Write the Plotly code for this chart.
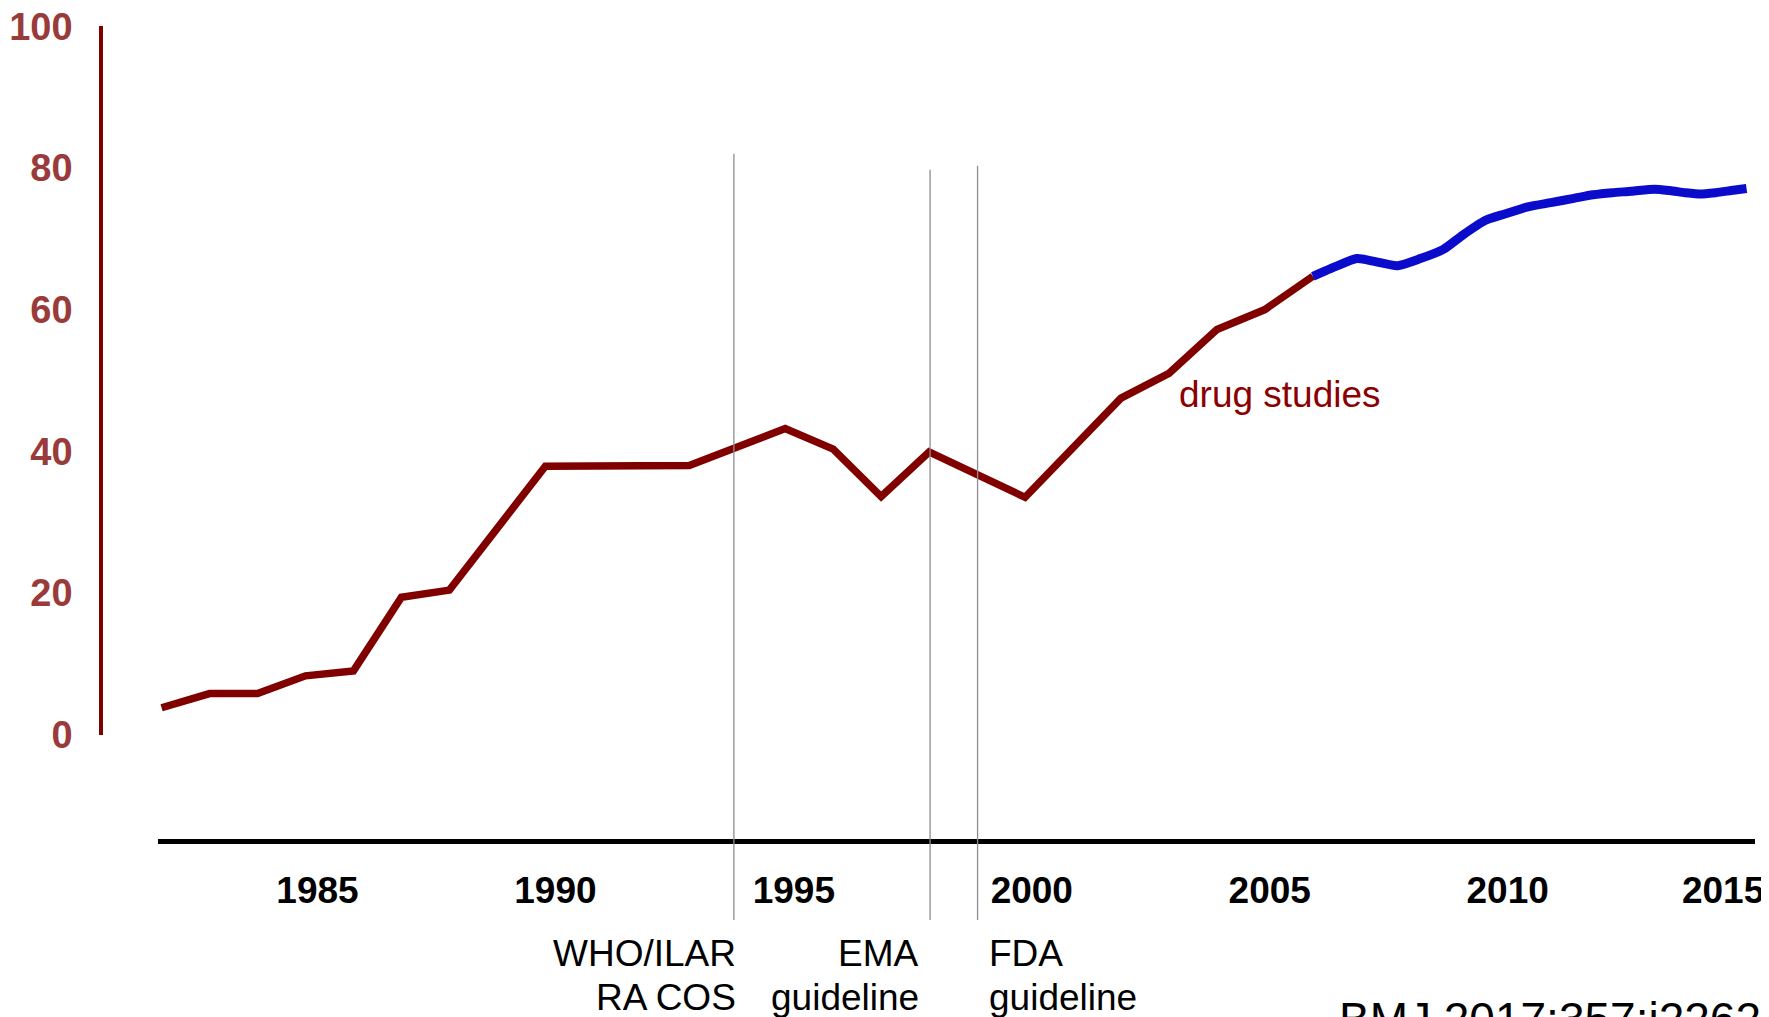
import plotly.graph_objects as go

# ---- data ----
red_years = [1982, 1983, 1984, 1985, 1986, 1987, 1988, 1990, 1993, 1995, 1996,
             1997, 1998, 2000, 2002, 2003, 2004, 2005, 2006]
red_values = [3.8, 5.8, 5.8, 8.3, 9.0, 19.4, 20.4, 37.9, 38.0, 43.2, 40.3,
              33.6, 39.9, 33.5, 47.5, 51.0, 57.2, 60.0, 64.7]

blue_years = [2006.0, 2006.48, 2006.92, 2007.28, 2007.76, 2008.24, 2008.72, 2009.12,
              2009.60, 2010.0, 2010.48, 2010.96, 2011.44, 2011.84, 2012.24, 2012.64,
              2013.12, 2013.44, 2013.76, 2014.08, 2014.40, 2014.72, 2015.04]
blue_values = [64.7, 66.1, 67.2, 66.8, 66.2, 67.2, 68.5, 70.5, 72.6, 73.5, 74.5, 75.1,
               75.7, 76.2, 76.5, 76.7, 77.0, 76.8, 76.5, 76.3, 76.5, 76.8, 77.1]

y_ticks = [0, 20, 40, 60, 80, 100]
x_tick_labels = ["1985", "1990", "1995", "2000", "2005", "2010", "2015"]
x_tick_pos = [1985.25, 1990.21, 1995.18, 2000.14, 2005.10, 2010.06, 2014.55]

event_years = [1993.93, 1998.02, 1999.01]
event_tops = [0.8568, 0.8409, 0.8449]
event_line1 = ["WHO/ILAR", "EMA", "FDA"]
event_line2 = ["RA COS", "guideline", "guideline"]
event_label_x = [1994.01, 1997.83, 1999.21]
event_label_anchor = ["right", "right", "left"]

FONT = "Liberation Sans, Arial, sans-serif"
DARK_RED = "#800000"

fig = go.Figure()
fig.add_trace(go.Scatter(x=red_years, y=red_values, mode="lines",
                         line=dict(color=DARK_RED, width=7.5), showlegend=False,
                         hoverinfo="skip"))
fig.add_trace(go.Scatter(x=blue_years, y=blue_values, mode="lines",
                         line=dict(color="#0B0BCC", width=9, shape="spline",
                                   smoothing=0.6),
                         showlegend=False, hoverinfo="skip"))

for xv, top in zip(event_years, event_tops):
    fig.add_shape(type="line", xref="x", yref="paper", x0=xv, x1=xv,
                  y0=0.1032, y1=top, line=dict(color="#8E8E8E", width=1.3))

for l1, l2, xv, anc in zip(event_line1, event_line2, event_label_x, event_label_anchor):
    fig.add_annotation(text=l1, xref="x", yref="paper", x=xv, y=0.0707,
                       xanchor=anc, yanchor="middle", align=anc, showarrow=False,
                       font=dict(family=FONT, size=37, color="#000000"))
    fig.add_annotation(text=l2, xref="x", yref="paper", x=xv, y=0.0273,
                       xanchor=anc, yanchor="middle", align=anc, showarrow=False,
                       font=dict(family=FONT, size=37, color="#000000"))

fig.add_annotation(text="drug studies", xref="x", yref="y", x=2003.16, y=48.0,
                   xanchor="left", yanchor="middle", showarrow=False,
                   font=dict(family=FONT, size=37, color="#8B0000"))

fig.add_annotation(text="BMJ 2017;357:j2262", xref="paper", yref="paper",
                   x=0.7515, y=0.006, xanchor="left", yanchor="middle",
                   showarrow=False,
                   font=dict(family=FONT, size=46, color="#000000"))

fig.update_layout(
    width=1769, height=1017,
    margin=dict(l=0, r=0, t=0, b=0, autoexpand=False),
    paper_bgcolor="white", plot_bgcolor="rgba(0,0,0,0)",
    showlegend=False,
    xaxis=dict(domain=[0.08462, 0.98740], range=[1981.919, 2015.21],
               anchor="free", position=0.1809, automargin=False,
               showline=True, linecolor="#000000", linewidth=5,
               showgrid=False, zeroline=False,
               tickmode="array", tickvals=x_tick_pos, ticktext=x_tick_labels,
               ticks="outside", ticklen=15, tickcolor="rgba(0,0,0,0)",
               ticklabeloverflow="allow",
               tickfont=dict(family=FONT, size=37, color="#000000", weight="bold")),
    yaxis=dict(domain=[0.2855, 0.9821], range=[0, 100],
               anchor="free", position=0.0527, automargin=False,
               showline=True, linecolor=DARK_RED, linewidth=4,
               showgrid=False, zeroline=False,
               tickmode="array", tickvals=y_ticks,
               ticks="outside", ticklen=19, tickcolor="rgba(0,0,0,0)",
               ticklabeloverflow="allow",
               tickfont=dict(family=FONT, size=38, color="#9A3B3B", weight="bold")),
)

fig.write_html("out.html")
